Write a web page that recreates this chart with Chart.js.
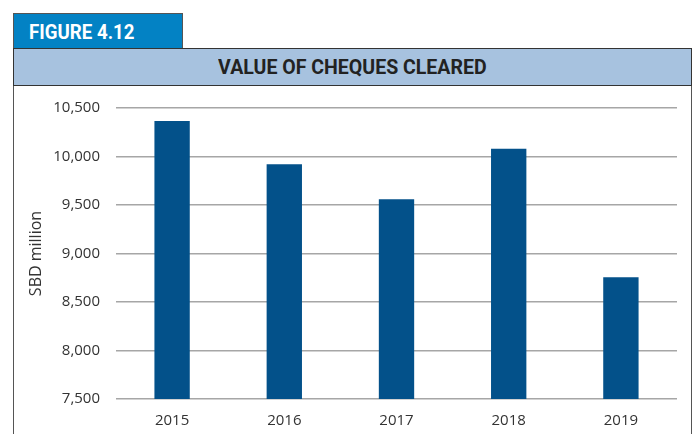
<!DOCTYPE html>
<html>
<head>
<meta charset="utf-8">
<script src="https://cdn.jsdelivr.net/npm/chart.js@4"></script>
<style>
  body { margin: 0; background: #fff; }
  #page { position: relative; width: 696px; height: 434px; overflow: hidden; }
  .tab {
    position: absolute; left: 13px; top: 13px; width: 170px; height: 36px;
    background: #0382c4; border: 1px solid #555; border-bottom: none; box-sizing: border-box;
    color: #fff; font: bold 21px "Roboto", sans-serif; line-height: 36px;
  }
  .tab span { position: absolute; left: 15px; transform: scaleX(0.89); transform-origin: left center; }
  .titlebar {
    position: absolute; left: 13px; top: 48px; width: 679px; height: 38px;
    background: #a7c2df; border: 1px solid #333; box-sizing: border-box;
    color: #222; font: bold 21px "Roboto", sans-serif;
    text-align: center; line-height: 37px;
  }
  .titlebar span { display: inline-block; transform: scaleX(0.93); }
  .frame {
    position: absolute; left: 13px; top: 86px; width: 679px; height: 360px;
    border-left: 1.5px solid #555; border-right: 1.5px solid #555; box-sizing: border-box;
  }
  canvas { position: absolute; left: 0; top: 0; }
</style>
</head>
<body>
<div id="page">
  <div class="tab"><span>FIGURE 4.12</span></div>
  <div class="titlebar"><span>VALUE OF CHEQUES CLEARED</span></div>
  <div class="frame"></div>
  <canvas id="myChart" width="696" height="434"></canvas>
</div>
<script>
// data
var years = ['2015', '2016', '2017', '2018', '2019'];
var chequeValues = [10365, 9920, 9560, 10080, 8755];
var yMin = 7500;
var yMax = 10500;
var yStep = 500;
var yTitle = 'SBD million';

var ctx = document.getElementById('myChart').getContext('2d');
var chart = new Chart(ctx, {
    type: 'bar',
    data: {
        labels: years,
        datasets: [{
            data: chequeValues,
            backgroundColor: '#03518a',
            barPercentage: 0.63,
            categoryPercentage: 0.5
        }]
    },
    options: {
        responsive: false,
        animation: false,
        layout: { padding: { top: 108, right: 19, left: 20, bottom: 0 } },
        plugins: { legend: { display: false }, tooltip: { enabled: false } },
        scales: {
            x: {
                grid: { display: false, drawTicks: false },
                border: { display: false },
                ticks: { color: '#333', padding: 13, font: { family: 'Open Sans', size: 15 } },
                afterFit: function(scale) { scale.height = 35; }
            },
            y: {
                min: yMin,
                max: yMax,
                ticks: {
                    stepSize: yStep,
                    color: '#333',
                    padding: 16,
                    font: { family: 'Open Sans', size: 15 },
                    callback: function(v) { return v.toLocaleString('en-US'); }
                },
                grid: { color: '#a6a6a6', lineWidth: 1.5, drawTicks: false },
                border: { display: false },
                title: {
                    display: true,
                    text: yTitle,
                    color: '#333',
                    padding: { top: 7, bottom: 0 },
                    font: { family: 'Open Sans', size: 16 }
                },
                afterFit: function(scale) { scale.width = 96; }
            }
        }
    }
});
</script>
</body>
</html>
